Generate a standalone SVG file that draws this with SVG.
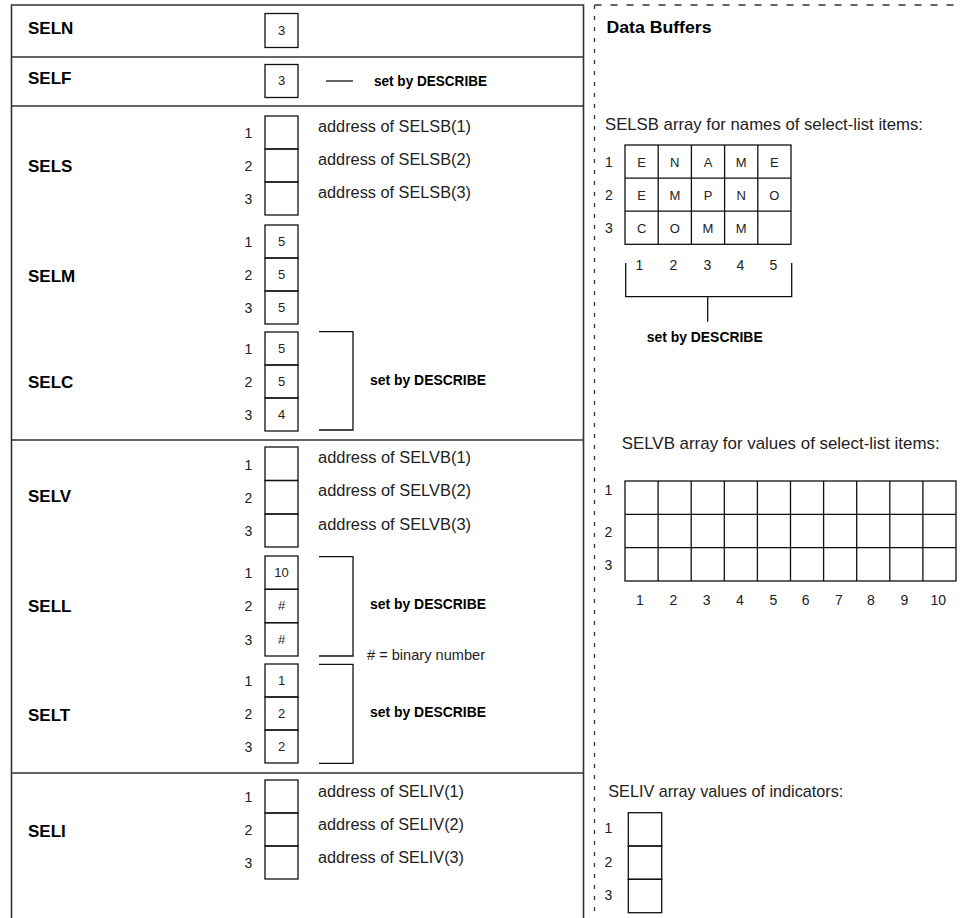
<svg xmlns="http://www.w3.org/2000/svg" width="960" height="918" viewBox="0 0 960 918" xml:space="preserve">
<style>
  .bg{fill:#fff}
  .frame{fill:none;stroke:#333;stroke-width:1.6}
  .dashv{fill:none;stroke:#333;stroke-width:1.3;stroke-dasharray:4 7}
  .dashh{fill:none;stroke:#333;stroke-width:1.3;stroke-dasharray:7 9}
  .cell{fill:none;stroke:#111;stroke-width:1.3}
  .link{fill:none;stroke:#111;stroke-width:1.3}
  .lbl{font-family:"Liberation Sans",Arial,sans-serif;font-weight:bold;font-size:17px;fill:#000}
  .num{font-family:"Liberation Sans",Arial,sans-serif;font-size:14px;fill:#222;text-anchor:middle}
  .dig{font-family:"Liberation Sans",Arial,sans-serif;font-size:13px;fill:#222;text-anchor:middle}
  .txt{font-family:"Liberation Sans",Arial,sans-serif;font-size:16px;fill:#222}
  .note{font-family:"Liberation Sans",Arial,sans-serif;font-weight:bold;font-size:14px;fill:#000}
  .small{font-family:"Liberation Sans",Arial,sans-serif;font-size:14.5px;fill:#222}
</style>
<rect class="bg" x="0" y="0" width="960" height="918"/>
<g id="frame">
<path class="frame" d="M11.5,918 V5 H583.5 V918"/>
<path class="frame" d="M11.5,57 H583.5 M11.5,106 H583.5 M11.5,440 H583.5 M11.5,773 H583.5"/>
<path class="dashv" d="M594.5,5 V918"/>
<path class="dashh" d="M594.5,5 H960"/>
</g>
<g id="SELN">
<text class="lbl" x="28" y="34">SELN</text>
<rect class="cell" x="265" y="13.5" width="33" height="34"/>
<text class="dig" x="281.5" y="35">3</text>
</g>
<g id="SELF">
<text class="lbl" x="28" y="84">SELF</text>
<rect class="cell" x="265" y="64.5" width="33" height="33"/>
<text class="dig" x="281.5" y="85">3</text>
<text class="note" x="374" y="86" textLength="113" lengthAdjust="spacingAndGlyphs">set by DESCRIBE</text>
</g>
<g id="SELS">
<text class="lbl" x="28" y="172">SELS</text>
<rect class="cell" x="265" y="116" width="33" height="33"/>
<rect class="cell" x="265" y="149" width="33" height="33"/>
<rect class="cell" x="265" y="182" width="33" height="33"/>
<text class="num" x="248.5" y="138">1</text>
<text class="num" x="248.5" y="171">2</text>
<text class="num" x="248.5" y="204">3</text>
<text class="txt" x="318" y="132" textLength="153" lengthAdjust="spacingAndGlyphs">address  of SELSB(1)</text>
<text class="txt" x="318" y="165" textLength="153" lengthAdjust="spacingAndGlyphs">address  of SELSB(2)</text>
<text class="txt" x="318" y="198" textLength="153" lengthAdjust="spacingAndGlyphs">address  of SELSB(3)</text>
</g>
<g id="SELM">
<text class="lbl" x="28" y="282">SELM</text>
<rect class="cell" x="265" y="225" width="33" height="33"/>
<rect class="cell" x="265" y="258" width="33" height="33"/>
<rect class="cell" x="265" y="291" width="33" height="33"/>
<text class="num" x="248.5" y="247">1</text>
<text class="num" x="248.5" y="280">2</text>
<text class="num" x="248.5" y="313">3</text>
<text class="dig" x="281.5" y="246">5</text>
<text class="dig" x="281.5" y="279">5</text>
<text class="dig" x="281.5" y="312">5</text>
</g>
<g id="SELC">
<text class="lbl" x="28" y="388">SELC</text>
<rect class="cell" x="265" y="332" width="33" height="33"/>
<rect class="cell" x="265" y="365" width="33" height="33"/>
<rect class="cell" x="265" y="398" width="33" height="33"/>
<text class="num" x="248.5" y="354">1</text>
<text class="num" x="248.5" y="387">2</text>
<text class="num" x="248.5" y="420">3</text>
<text class="dig" x="281.5" y="353">5</text>
<text class="dig" x="281.5" y="386">5</text>
<text class="dig" x="281.5" y="419">4</text>
<text class="note" x="370" y="385" textLength="116" lengthAdjust="spacingAndGlyphs">set by DESCRIBE</text>
</g>
<g id="SELV">
<text class="lbl" x="28" y="502">SELV</text>
<rect class="cell" x="265" y="447" width="33" height="33.5"/>
<rect class="cell" x="265" y="480.5" width="33" height="33.5"/>
<rect class="cell" x="265" y="514" width="33" height="33"/>
<text class="num" x="248.5" y="470">1</text>
<text class="num" x="248.5" y="503">2</text>
<text class="num" x="248.5" y="536">3</text>
<text class="txt" x="318" y="463" textLength="153" lengthAdjust="spacingAndGlyphs">address  of SELVB(1)</text>
<text class="txt" x="318" y="496" textLength="153" lengthAdjust="spacingAndGlyphs">address  of SELVB(2)</text>
<text class="txt" x="318" y="530" textLength="153" lengthAdjust="spacingAndGlyphs">address  of SELVB(3)</text>
</g>
<g id="SELL">
<text class="lbl" x="28" y="612">SELL</text>
<rect class="cell" x="265" y="556" width="33" height="33.3"/>
<rect class="cell" x="265" y="589.3" width="33" height="33.4"/>
<rect class="cell" x="265" y="622.7" width="33" height="33.3"/>
<text class="num" x="248.5" y="578">1</text>
<text class="num" x="248.5" y="611">2</text>
<text class="num" x="248.5" y="645">3</text>
<text class="dig" x="281.5" y="577">10</text>
<text class="dig" x="281.5" y="610">#</text>
<text class="dig" x="281.5" y="644">#</text>
<text class="note" x="370" y="609" textLength="116" lengthAdjust="spacingAndGlyphs">set by DESCRIBE</text>
<text class="small" x="367" y="660" textLength="118" lengthAdjust="spacingAndGlyphs"># = binary number</text>
</g>
<g id="SELT">
<text class="lbl" x="28" y="721">SELT</text>
<rect class="cell" x="265" y="664" width="33" height="33"/>
<rect class="cell" x="265" y="697" width="33" height="33"/>
<rect class="cell" x="265" y="730" width="33" height="33"/>
<text class="num" x="248.5" y="686">1</text>
<text class="num" x="248.5" y="719">2</text>
<text class="num" x="248.5" y="752">3</text>
<text class="dig" x="281.5" y="685">1</text>
<text class="dig" x="281.5" y="718">2</text>
<text class="dig" x="281.5" y="751">2</text>
<text class="note" x="370" y="717" textLength="116" lengthAdjust="spacingAndGlyphs">set by DESCRIBE</text>
</g>
<g id="SELI">
<text class="lbl" x="28" y="837">SELI</text>
<rect class="cell" x="265" y="780" width="33" height="33"/>
<rect class="cell" x="265" y="813" width="33" height="33"/>
<rect class="cell" x="265" y="846" width="33" height="33"/>
<text class="num" x="248.5" y="802">1</text>
<text class="num" x="248.5" y="835">2</text>
<text class="num" x="248.5" y="868">3</text>
<text class="txt" x="318" y="797" textLength="146" lengthAdjust="spacingAndGlyphs">address  of SELIV(1)</text>
<text class="txt" x="318" y="830" textLength="146" lengthAdjust="spacingAndGlyphs">address  of SELIV(2)</text>
<text class="txt" x="318" y="863" textLength="146" lengthAdjust="spacingAndGlyphs">address  of SELIV(3)</text>
</g>
<g id="data-buffers-title">
<text class="lbl" x="606.5" y="33" textLength="105" lengthAdjust="spacingAndGlyphs">Data Buffers</text>
</g>
<g id="SELSB">
<text class="txt" x="605" y="130" style="font-size:17px" textLength="318" lengthAdjust="spacingAndGlyphs">SELSB array for names of select-list  items:</text>
<rect class="cell" x="625" y="145" width="166" height="99.3"/>
<path class="cell" d="M658.2,145 V244.3 M691.4,145 V244.3 M724.6,145 V244.3 M757.8,145 V244.3 M625,178.1 H791 M625,211.2 H791"/>
<text class="num" x="609" y="167">1</text>
<text class="num" x="609" y="200">2</text>
<text class="num" x="609" y="233">3</text>
<text class="dig" x="641.6" y="166.5">E</text>
<text class="dig" x="674.8" y="166.5">N</text>
<text class="dig" x="708" y="166.5">A</text>
<text class="dig" x="741.2" y="166.5">M</text>
<text class="dig" x="774.4" y="166.5">E</text>
<text class="dig" x="641.6" y="199.6">E</text>
<text class="dig" x="674.8" y="199.6">M</text>
<text class="dig" x="708" y="199.6">P</text>
<text class="dig" x="741.2" y="199.6">N</text>
<text class="dig" x="774.4" y="199.6">O</text>
<text class="dig" x="641.6" y="232.7">C</text>
<text class="dig" x="674.8" y="232.7">O</text>
<text class="dig" x="708" y="232.7">M</text>
<text class="dig" x="741.2" y="232.7">M</text>
<text class="num" x="639.5" y="270">1</text>
<text class="num" x="673.3" y="270">2</text>
<text class="num" x="707.3" y="270">3</text>
<text class="num" x="740.3" y="270">4</text>
<text class="num" x="773.3" y="270">5</text>
<text class="note" x="646.7" y="342" textLength="116" lengthAdjust="spacingAndGlyphs">set by DESCRIBE</text>
</g>
<g id="SELVB">
<text class="txt" x="621.7" y="449" style="font-size:17px" textLength="318" lengthAdjust="spacingAndGlyphs">SELVB array for values of select-list  items:</text>
<rect class="cell" x="625" y="481" width="331" height="100"/>
<path class="cell" d="M658.1,481 V581 M691.2,481 V581 M724.3,481 V581 M757.4,481 V581 M790.5,481 V581 M823.6,481 V581 M856.7,481 V581 M889.8,481 V581 M922.9,481 V581 M625,514.3 H956 M625,547.7 H956"/>
<text class="num" x="608.5" y="495">1</text>
<text class="num" x="608.5" y="537">2</text>
<text class="num" x="608.5" y="570">3</text>
<text class="num" x="640" y="605">1</text>
<text class="num" x="673.3" y="605">2</text>
<text class="num" x="706.7" y="605">3</text>
<text class="num" x="740" y="605">4</text>
<text class="num" x="773.3" y="605">5</text>
<text class="num" x="805.7" y="605">6</text>
<text class="num" x="839" y="605">7</text>
<text class="num" x="871" y="605">8</text>
<text class="num" x="904.3" y="605">9</text>
<text class="num" x="938.3" y="605">10</text>
</g>
<g id="SELIV">
<text class="txt" x="608.3" y="797" style="font-size:17px" textLength="235" lengthAdjust="spacingAndGlyphs">SELIV array values  of indicators:</text>
<rect class="cell" x="628.3" y="812.7" width="33.4" height="33.3"/>
<rect class="cell" x="628.3" y="846" width="33.4" height="33.3"/>
<rect class="cell" x="628.3" y="879.3" width="33.4" height="33.4"/>
<text class="num" x="608.5" y="833">1</text>
<text class="num" x="608.5" y="867">2</text>
<text class="num" x="608.5" y="900">3</text>
</g>
<g id="connectors">
<path class="link" d="M326,81 H353"/>
<path class="link" d="M319,331.7 H353 V430 H319"/>
<path class="link" d="M319,556.7 H353 V656 H319"/>
<path class="link" d="M319,664.3 H353 V763.3 H319"/>
<path class="link" d="M625.7,263 V296.7 H791.7 V263 M707.7,296.7 V321.7"/>
</g>
</svg>
